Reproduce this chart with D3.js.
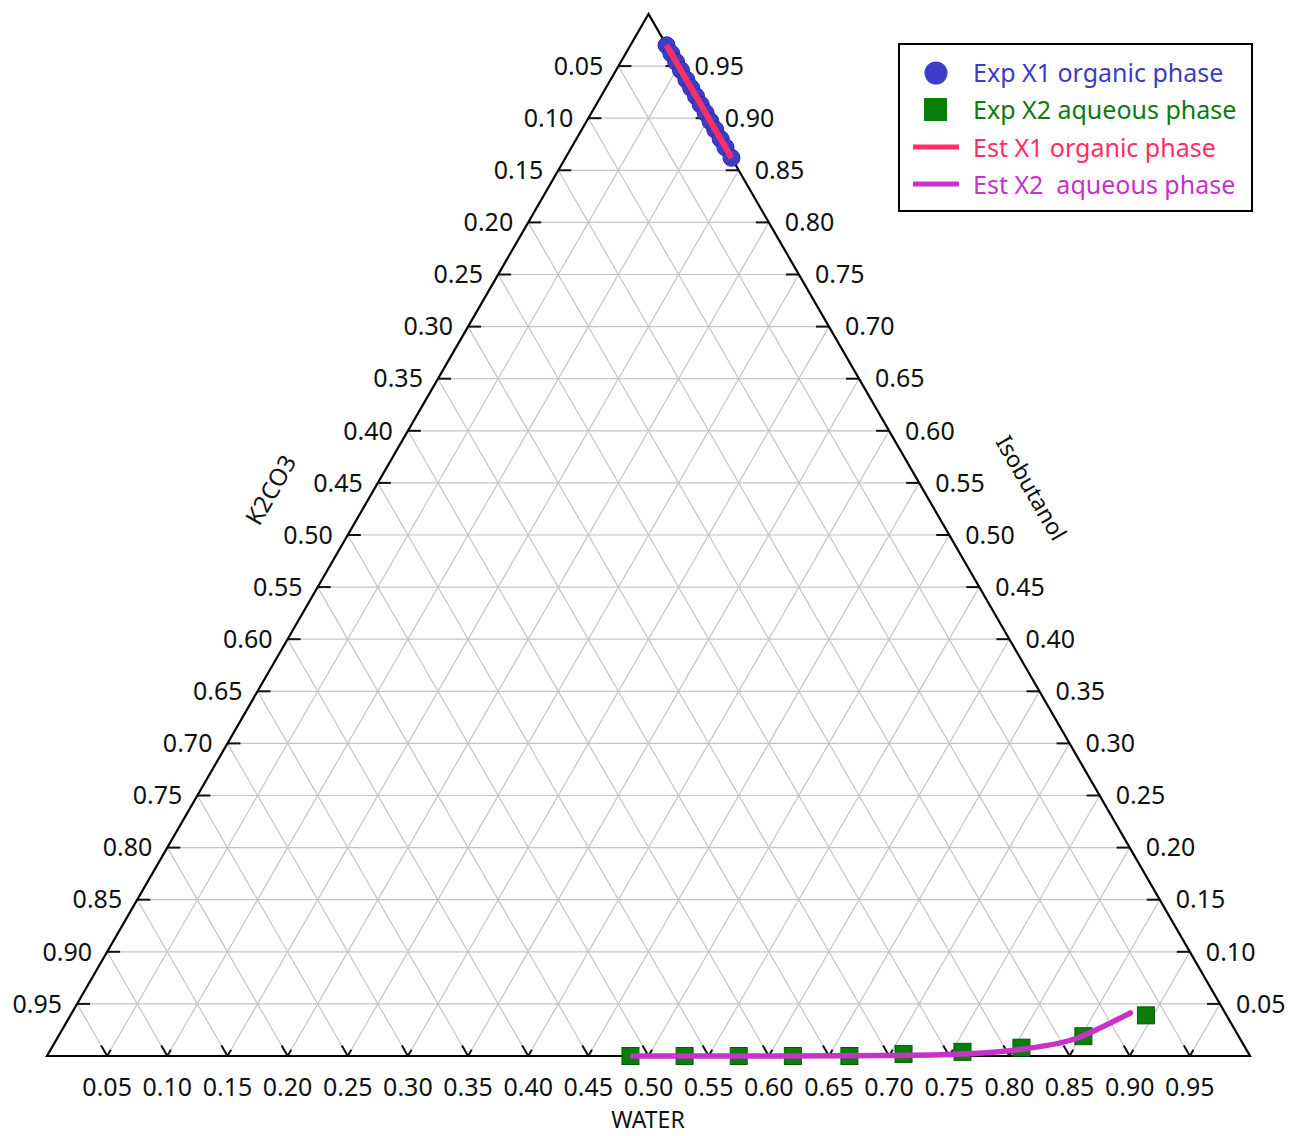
<!DOCTYPE html>
<html>
<head>
<meta charset="utf-8">
<script src="https://cdn.jsdelivr.net/npm/d3@7"></script>
<style>
  html, body { margin: 0; padding: 0; background: #fff; }
  svg { display: block; font-family: "Noto Sans", "Open Sans", sans-serif; }
</style>
</head>
<body>
<svg id="chart" width="1289" height="1136"></svg>
<script>
// ---------------- DATA ----------------
const tickValues = [0.05,0.10,0.15,0.20,0.25,0.30,0.35,0.40,0.45,0.50,0.55,0.60,0.65,0.70,0.75,0.80,0.85,0.90,0.95];
const tickLabels = ["0.05","0.10","0.15","0.20","0.25","0.30","0.35","0.40","0.45","0.50","0.55","0.60","0.65","0.70","0.75","0.80","0.85","0.90","0.95"];
const rightTickLabels = ["0.95","0.90","0.85","0.80","0.75","0.70","0.65","0.60","0.55","0.50","0.45","0.40","0.35","0.30","0.25","0.20","0.15","0.10","0.05"];

const axisTitles = ["K2CO3", "Isobutanol", "WATER"];

// Exp X1 organic phase (mass fractions)
const orgIsobutanol = [0.970, 0.962, 0.954, 0.946, 0.937, 0.929, 0.921, 0.913, 0.905, 0.897, 0.889, 0.880, 0.872, 0.862];
const orgWater      = [0.030, 0.038, 0.046, 0.054, 0.063, 0.071, 0.079, 0.087, 0.095, 0.103, 0.111, 0.120, 0.128, 0.138];

// Exp X2 aqueous phase
const aqIsobutanol = [0.000, 0.000, 0.000, 0.000, 0.000, 0.002, 0.004, 0.008, 0.019, 0.039];
const aqWater      = [0.485, 0.530, 0.575, 0.620, 0.667, 0.711, 0.759, 0.806, 0.852, 0.894];

// Est X1 organic phase
const estOrgIsobutanol = [0.970, 0.916, 0.862];
const estOrgWater      = [0.030, 0.084, 0.138];

// Est X2 aqueous phase
const estAqIsobutanol = [0.000, 0.000, 0.0005, 0.002, 0.0067, 0.0173, 0.0300, 0.0413];
const estAqWater      = [0.487, 0.618, 0.700, 0.760, 0.808, 0.848, 0.866, 0.880];

const legendLabels = ["Exp X1 organic phase", "Exp X2 aqueous phase", "Est X1 organic phase", "Est X2  aqueous phase"];
const legendColors = ["#3b3bc6", "#0c7a0c", "#ff2e66", "#c633c6"];

// ---------------- LAYOUT ----------------
const svg = d3.select("#chart");
const triLeft = 47, triRight = 1250, triTop = 14, triBottom = 1056;
const xS = d3.scaleLinear().domain([0, 1]).range([triLeft, triRight]);   // along base
const yS = d3.scaleLinear().domain([0, 1]).range([triBottom, triTop]);   // isobutanol height

// position from (isobutanol I, water W)
const px = (I, W) => xS(W + I / 2);
const py = (I) => yS(I);

const gridColor = "#c4c4c4";

// gridlines
const g = svg.append("g");
tickValues.forEach(v => {
  g.append("line").attr("x1", px(v, 0)).attr("y1", py(v)).attr("x2", px(v, 1 - v)).attr("y2", py(v))
    .attr("stroke", gridColor).attr("stroke-width", 1.2);
  g.append("line").attr("x1", px(0, v)).attr("y1", py(0)).attr("x2", px(1 - v, v)).attr("y2", py(1 - v))
    .attr("stroke", gridColor).attr("stroke-width", 1.2);
  g.append("line").attr("x1", px(0, 1 - v)).attr("y1", py(0)).attr("x2", px(1 - v, 0)).attr("y2", py(1 - v))
    .attr("stroke", gridColor).attr("stroke-width", 1.2);
});

// triangle
svg.append("path")
  .attr("d", d3.line()([[px(1, 0), py(1)], [px(0, 0), py(0)], [px(0, 1), py(0)]]) + "Z")
  .attr("fill", "none").attr("stroke", "#000").attr("stroke-width", 2.2).attr("stroke-linejoin", "miter");

// ticks
const tk = svg.append("g").attr("stroke", "#111").attr("stroke-width", 2);
const tlen = 13;
tickValues.forEach(v => {
  const I = 1 - v;
  tk.append("line").attr("x1", px(I, 0)).attr("y1", py(I)).attr("x2", px(I, 0) + tlen).attr("y2", py(I));
  tk.append("line").attr("x1", px(I, 1 - I)).attr("y1", py(I)).attr("x2", px(I, 1 - I) - tlen).attr("y2", py(I));
  const bx = xS(v), by = yS(0);
  const dx = 6, dy = 10.4;
  tk.append("line").attr("x1", bx).attr("y1", by).attr("x2", bx - dx).attr("y2", by - dy);
  tk.append("line").attr("x1", bx).attr("y1", by).attr("x2", bx + dx * 0.6).attr("y2", by - dy * 0.6);
});

// tick labels
const fs = 25;
const lab = svg.append("g").attr("font-size", fs).attr("fill", "#111");
tickValues.forEach((v, i) => {
  const I = 1 - v;
  const yy = py(I);
  lab.append("text").attr("x", px(I, 0) - 15).attr("y", yy).attr("dy", "0.35em")
    .attr("text-anchor", "end").text(tickLabels[i]);
  lab.append("text").attr("x", px(I, 1 - I) + 16).attr("y", yy).attr("dy", "0.35em")
    .attr("text-anchor", "start").text(rightTickLabels[i]);
  lab.append("text").attr("x", xS(v)).attr("y", 1087).attr("dy", "0.35em")
    .attr("text-anchor", "middle").text(tickLabels[i]);
});

// axis titles
svg.append("text").attr("transform", "translate(271,490) rotate(-60)")
  .attr("text-anchor", "middle").attr("dy", "0.35em").attr("font-size", 24).attr("fill", "#111").text(axisTitles[0]);
svg.append("text").attr("transform", "translate(1031,488) rotate(60)")
  .attr("text-anchor", "middle").attr("dy", "0.35em").attr("font-size", 23).attr("fill", "#111").text(axisTitles[1]);
svg.append("text").attr("x", 648).attr("y", 1128)
  .attr("text-anchor", "middle").attr("font-size", 23).attr("fill", "#111").text(axisTitles[2]);

// ---------------- SERIES ----------------
const line = d3.line().x(d => px(d[0], d[1])).y(d => py(d[0]));

const sq = 17;
svg.append("g").selectAll("rect").data(d3.zip(aqIsobutanol, aqWater)).join("rect")
  .attr("x", d => px(d[0], d[1]) - sq / 2).attr("y", d => py(d[0]) - sq / 2)
  .attr("width", sq).attr("height", sq)
  .attr("fill", "#0a7d0a").attr("stroke", "#065a06").attr("stroke-width", 1);

svg.append("path").datum(d3.zip(estAqIsobutanol, estAqWater))
  .attr("d", line.curve(d3.curveMonotoneX))
  .attr("fill", "none").attr("stroke", legendColors[3]).attr("stroke-width", 5.5).attr("stroke-linecap", "round");

svg.append("g").selectAll("circle").data(d3.zip(orgIsobutanol, orgWater)).join("circle")
  .attr("cx", d => px(d[0], d[1])).attr("cy", d => py(d[0])).attr("r", 8.5)
  .attr("fill", "#3d3dca").attr("stroke", "#2a2aa8").attr("stroke-width", 1);

svg.append("path").datum(d3.zip(estOrgIsobutanol, estOrgWater))
  .attr("d", d3.line().x(d => px(d[0], d[1])).y(d => py(d[0])))
  .attr("fill", "none").attr("stroke", legendColors[2]).attr("stroke-width", 6).attr("stroke-linecap", "butt");

// ---------------- LEGEND ----------------
const lg = svg.append("g");
lg.append("rect").attr("x", 899).attr("y", 44).attr("width", 353).attr("height", 167)
  .attr("fill", "#fff").attr("stroke", "#000").attr("stroke-width", 2);
const rowY = [73, 110, 148, 185];
lg.append("circle").attr("cx", 936).attr("cy", rowY[0]).attr("r", 11.5).attr("fill", "#3d3dca");
lg.append("rect").attr("x", 924).attr("y", rowY[1] - 12).attr("width", 23).attr("height", 23).attr("fill", "#0a7d0a");
lg.append("line").attr("x1", 913).attr("x2", 959).attr("y1", rowY[2] - 1).attr("y2", rowY[2] - 1)
  .attr("stroke", legendColors[2]).attr("stroke-width", 5);
lg.append("line").attr("x1", 913).attr("x2", 959).attr("y1", rowY[3] - 1).attr("y2", rowY[3] - 1)
  .attr("stroke", legendColors[3]).attr("stroke-width", 5);
legendLabels.forEach((t, i) => {
  lg.append("text").attr("x", 973).attr("y", rowY[i]).attr("dy", "0.35em")
    .attr("font-size", 25).attr("fill", legendColors[i])
    .style("white-space", "pre").text(t);
});
</script>
</body>
</html>
